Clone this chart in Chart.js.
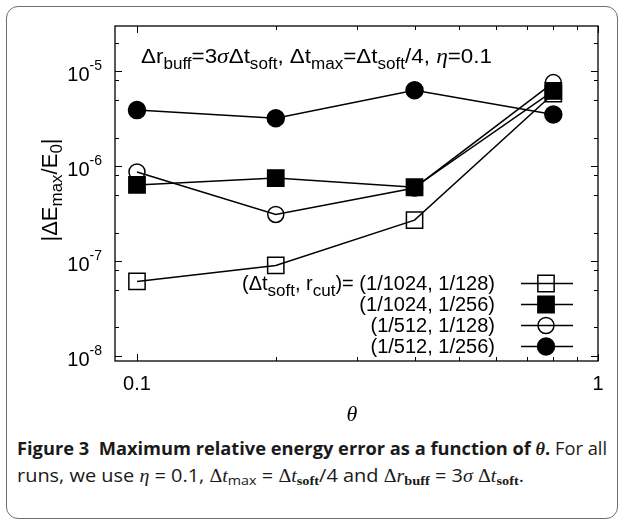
<!DOCTYPE html>
<html>
<head>
<meta charset="utf-8">
<script src="https://cdn.jsdelivr.net/npm/chart.js@4.4.1/dist/chart.umd.min.js"></script>
<style>
html, body { margin:0; padding:0; background:#fff; }
#page { position:relative; width:624px; height:524px; overflow:hidden; }
#frame { position:absolute; left:6px; top:6px; width:612px; height:513px; border:1.5px solid #6e6e6e; border-radius:12px; box-sizing:border-box; }
#chart { position:absolute; left:0; top:0; }
.cap { position:absolute; left:17px; white-space:nowrap; font-family:"Open Sans", sans-serif; font-size:18px; line-height:22px; color:#1a1a1a; transform-origin:0 50%; }
.cap b { font-weight:700; }
.sr { font-family:"Liberation Serif", serif; }
.cap sub { font-size:72%; vertical-align:-0.25em; line-height:0; }
</style>
</head>
<body>
<div id="page">
  <div id="frame"></div>
  <canvas id="chart" width="624" height="430"></canvas>
  <div class="cap" id="cap1" style="top:437px"><b>Figure 3&nbsp; Maximum relative energy error as a function of <i class="sr">&theta;</i>.</b> For all</div>
  <div class="cap" id="cap2" style="top:464px">runs, we use <i class="sr">&eta;</i> = 0.1, <span class="sr">&Delta;<i>t</i></span><sub>max</sub> = <span class="sr">&Delta;<i>t</i></span><sub class="sr"><b>soft</b></sub>/4 and <span class="sr">&Delta;<i>r</i></span><sub class="sr"><b>buff</b></sub> = 3<i class="sr">&sigma;</i> <span class="sr">&Delta;<i>t</i></span><sub class="sr"><b>soft</b></sub>.</div>
</div>
<script>
// theta values and |dE_max/E_0| for each run
var theta = [0.1, 0.2, 0.4, 0.8];
var err1024_128 = [6.1e-8, 9.0e-8, 2.7e-7, 5.8e-6];
var err1024_256 = [6.35e-7, 7.5e-7, 6.0e-7, 6.2e-6];
var err512_128 = [8.7e-7, 3.1e-7, 5.9e-7, 7.6e-6];
var err512_256 = [3.9e-6, 3.2e-6, 6.3e-6, 3.5e-6];
var legendLabels = ["(1/1024, 1/128)", "(1/1024, 1/256)", "(1/512, 1/128)", "(1/512, 1/256)"];

var xMajor = [0.1, 1];
var xLabels = ["0.1", "1"];
var xMinor = [0.2, 0.3, 0.4, 0.5, 0.6, 0.7, 0.8, 0.9];
var yMajor = [1e-8, 1e-7, 1e-6, 1e-5];
var yExp = ["-8", "-7", "-6", "-5"];
var yMinor = [2e-8, 5e-8, 8e-8, 2e-7, 5e-7, 8e-7, 2e-6, 5e-6, 8e-6, 2e-5];

var SANS = '"Liberation Sans", Arial, sans-serif';
var SERIF = '"Liberation Serif", "Times New Roman", serif';
var T = '20px ' + SANS;
var SUP = '14px ' + SANS;
var N = '21px ' + SANS;
var S = '16px ' + SANS;
var GR = 'italic 22px ' + SERIF;
var LN = '20px ' + SANS;
var LS = '17px ' + SANS;

function pts(ys) {
    return theta.map(function(t, i) { return {x: t, y: ys[i]}; });
}

function mkSet(label, ys, style, filled, r) {
    return {
        label: label,
        data: pts(ys),
        showLine: true,
        borderColor: '#000',
        borderWidth: 1.5,
        pointStyle: style,
        pointRadius: r,
        pointHoverRadius: r,
        pointBorderWidth: 1.5,
        pointBorderColor: '#000',
        pointBackgroundColor: filled ? '#000' : 'rgba(0,0,0,0)',
        tension: 0
    };
}

function partsWidth(ctx, parts) {
    var w = 0;
    parts.forEach(function(p) { ctx.font = p[1]; w += ctx.measureText(p[0]).width; });
    return w;
}

function drawParts(ctx, parts, x, y, align) {
    var w = partsWidth(ctx, parts);
    var cx = align === 'right' ? x - w : (align === 'center' ? x - w / 2 : x);
    parts.forEach(function(p) {
        ctx.font = p[1];
        ctx.fillText(p[0], cx, y + (p[2] || 0));
        cx += ctx.measureText(p[0]).width;
    });
}

var gnuplotLook = {
    id: 'gnuplotLook',
    beforeDatasetsDraw: function(chart) {
        var ctx = chart.ctx, ca = chart.chartArea;
        var xs = chart.scales.x, ys = chart.scales.y;
        ctx.save();
        ctx.strokeStyle = '#000';
        ctx.lineWidth = 1.3;
        ctx.strokeRect(ca.left, ca.top, ca.right - ca.left, ca.bottom - ca.top);
        function xt(v, len) {
            var px = Math.round(xs.getPixelForValue(v)) + 0.5;
            ctx.beginPath();
            ctx.moveTo(px, ca.bottom); ctx.lineTo(px, ca.bottom - len);
            ctx.moveTo(px, ca.top); ctx.lineTo(px, ca.top + len);
            ctx.stroke();
        }
        function yt(v, len) {
            var py = Math.round(ys.getPixelForValue(v)) + 0.5;
            ctx.beginPath();
            ctx.moveTo(ca.left, py); ctx.lineTo(ca.left + len, py);
            ctx.moveTo(ca.right, py); ctx.lineTo(ca.right - len, py);
            ctx.stroke();
        }
        ctx.lineWidth = 1;
        xMajor.forEach(function(v) { xt(v, 7); });
        xMinor.forEach(function(v) { xt(v, 4); });
        yMajor.forEach(function(v) { yt(v, 7); });
        yMinor.forEach(function(v) { yt(v, 4); });
        ctx.restore();
    },
    afterDraw: function(chart) {
        var ctx = chart.ctx, ca = chart.chartArea;
        var xs = chart.scales.x, ys = chart.scales.y;
        ctx.save();
        ctx.fillStyle = '#000';
        ctx.textBaseline = 'alphabetic';
        ctx.textAlign = 'left';

        // tick labels
        yMajor.forEach(function(v, i) {
            var py = ys.getPixelForValue(v);
            drawParts(ctx, [['10', T, 0], [yExp[i], SUP, -11]], ca.left - 13, py + 10, 'right');
        });
        xMajor.forEach(function(v, i) {
            var px = xs.getPixelForValue(v);
            drawParts(ctx, [[xLabels[i], T, 0]], px, ca.bottom + 29, 'center');
        });

        // axis titles
        drawParts(ctx, [['\u03b8', 'italic 22px ' + SERIF, 0]], 352, 421, 'center');
        ctx.save();
        ctx.translate(57, 190);
        ctx.rotate(-Math.PI / 2);
        drawParts(ctx, [['|\u0394E', '22px ' + SANS, 0], ['max', '17px ' + SANS, 5], ['/E', '22px ' + SANS, 0], ['0', '17px ' + SANS, 5], ['|', '22px ' + SANS, 0]], 0, 0, 'center');
        ctx.restore();

        // run parameters, stretched to the width used in the figure
        var note = [
            ['\u0394r', N, 0], ['buff', S, 6], ['=3', N, 0], ['\u03c3', GR, 0],
            ['\u0394t', N, 0], ['soft', S, 6], [', \u0394t', N, 0], ['max', S, 6],
            ['=\u0394t', N, 0], ['soft', S, 6], ['/4, ', N, 0], ['\u03b7', GR, 0], ['=0.1', N, 0]
        ];
        ctx.save();
        ctx.translate(141, 63);
        ctx.scale(351 / partsWidth(ctx, note), 1);
        drawParts(ctx, note, 0, 0, 'left');
        ctx.restore();

        // key
        var rows = [283, 304, 325, 346];
        chart.data.datasets.forEach(function(ds, i) {
            var y = rows[i];
            var parts = [[legendLabels[i], LN, 0]];
            if (i === 0) {
                parts = [['(\u0394t', LN, 0], ['soft', LS, 6], [', r', LN, 0], ['cut', LS, 6], [')= ' + legendLabels[i], LN, 0]];
            }
            drawParts(ctx, parts, 495, y + 7, 'right');
            ctx.strokeStyle = '#000';
            ctx.lineWidth = 1.5;
            ctx.beginPath();
            ctx.moveTo(521, y + 0.5); ctx.lineTo(573, y + 0.5);
            ctx.stroke();
            ctx.fillStyle = ds.pointBackgroundColor;
            Chart.helpers.drawPoint(ctx, {pointStyle: ds.pointStyle, radius: ds.pointRadius, borderWidth: 1.5, rotation: 0}, 546, y + 0.5);
            ctx.fillStyle = '#000';
        });
        ctx.restore();
    }
};

var config = {
    type: 'scatter',
    data: {
        datasets: [
            mkSet(legendLabels[0], err1024_128, 'rect', false, 11.5),
            mkSet(legendLabels[1], err1024_256, 'rect', true, 11.5),
            mkSet(legendLabels[2], err512_128, 'circle', false, 8),
            mkSet(legendLabels[3], err512_256, 'circle', true, 8.5)
        ]
    },
    options: {
        responsive: false,
        animation: false,
        devicePixelRatio: 1,
        layout: { padding: { left: 0, top: 26, right: 26, bottom: 0 } },
        plugins: { legend: { display: false }, tooltip: { enabled: false } },
        scales: {
            x: {
                type: 'logarithmic', min: 0.0896, max: 1,
                ticks: { display: false }, grid: { display: false }, border: { display: false },
                afterFit: function(s) { s.height = 69; }
            },
            y: {
                type: 'logarithmic', min: 8.86e-9, max: 3e-5,
                ticks: { display: false }, grid: { display: false }, border: { display: false },
                afterFit: function(s) { s.width = 115; }
            }
        }
    },
    plugins: [gnuplotLook]
};

var ctx = document.getElementById("chart").getContext("2d");
var myChart = new Chart(ctx, config);

// squeeze caption lines to the widths in the figure
function fit(id, w) {
    var el = document.getElementById(id);
    var real = el.getBoundingClientRect().width;
    el.style.transform = 'scaleX(' + (w / real) + ')';
}
fit('cap1', 590);
fit('cap2', 507);
</script>
</body>
</html>
